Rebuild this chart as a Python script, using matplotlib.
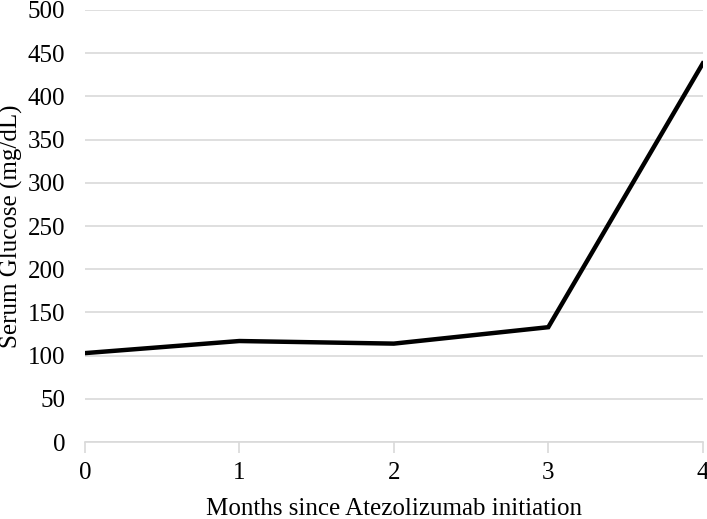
import matplotlib
matplotlib.use("Agg")
from matplotlib import pyplot as plt

months = [0, 1, 2, 3, 4]
glucose = [103, 117, 114, 133, 438]
yticks = list(range(0, 501, 50))

plt.rcParams['font.family'] = ['Liberation Serif', 'DejaVu Serif']

fig = plt.figure(figsize=(7.07, 5.19), dpi=100)
ax = fig.add_axes([0.120, 0.148, 0.874, 0.833])

ax.plot(months, glucose, color='black', linewidth=3.2, solid_joinstyle='miter')

ax.set_xlim(0, 4)
ax.set_ylim(0, 500)
ax.set_yticks(yticks)
ax.set_xticks(months)
ax.grid(axis='y', color='#d9d9d9', linewidth=1.2)
ax.set_axisbelow(True)
for s in ['top', 'right', 'left']:
    ax.spines[s].set_visible(False)
ax.spines['bottom'].set_color('#d9d9d9')
ax.spines['bottom'].set_linewidth(1.2)
ax.tick_params(axis='y', length=0, labelsize=18, pad=14)
ax.tick_params(axis='x', length=8, color='#d9d9d9', width=1.2, labelsize=18, pad=6)

ax.set_xlabel('Months since Atezolizumab initiation', fontsize=18, labelpad=10)
ax.set_ylabel('Serum Glucose (mg/dL)', fontsize=18)
ax.yaxis.set_label_coords(-0.100, 0.5)

fig.savefig('out.png', dpi=100)
